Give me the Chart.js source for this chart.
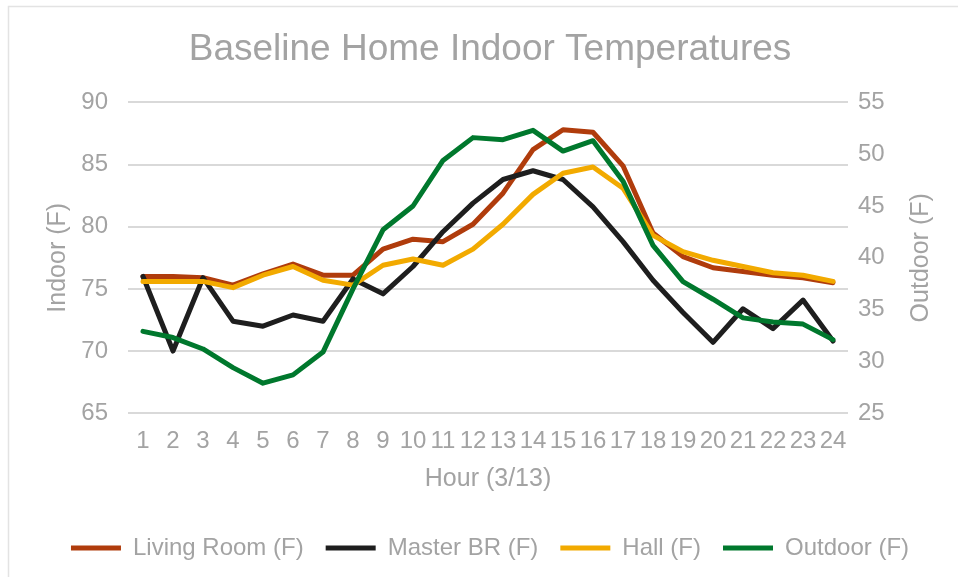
<!DOCTYPE html>
<html>
<head>
<meta charset="utf-8">
<script src="https://cdn.jsdelivr.net/npm/chart.js@4"></script>
<style>
  html, body { margin: 0; padding: 0; background: #fff; }
  #wrap { width: 958px; height: 577px; }
</style>
</head>
<body>
<div id="wrap"><canvas id="tempChart" width="958" height="577"></canvas></div>
<script>
const hours = ["1","2","3","4","5","6","7","8","9","10","11","12","13","14","15","16","17","18","19","20","21","22","23","24"];
const livingRoom = [76.0, 76.0, 75.9, 75.3, 76.2, 77.0, 76.1, 76.1, 78.2, 79.0, 78.8, 80.2, 82.7, 86.2, 87.8, 87.6, 84.9, 79.5, 77.6, 76.7, 76.4, 76.1, 75.9, 75.5];
const masterBR = [76.0, 70.0, 75.9, 72.4, 72.0, 72.9, 72.4, 75.8, 74.6, 76.8, 79.6, 81.9, 83.8, 84.5, 83.8, 81.6, 78.8, 75.7, 73.1, 70.7, 73.4, 71.8, 74.1, 70.8];
const hall = [75.6, 75.6, 75.6, 75.1, 76.1, 76.8, 75.7, 75.3, 76.9, 77.4, 76.9, 78.2, 80.2, 82.6, 84.3, 84.8, 83.1, 79.3, 78.0, 77.3, 76.8, 76.3, 76.1, 75.6];
const outdoor = [32.9, 32.3, 31.2, 29.4, 27.9, 28.7, 30.9, 37.0, 42.7, 45.0, 49.4, 51.6, 51.4, 52.3, 50.3, 51.3, 47.4, 41.2, 37.7, 36.0, 34.2, 33.8, 33.6, 32.1];

const grey = "#a3a3a3";
const fontFamily = "'Liberation Sans', Arial, sans-serif";

// faint chart frame, only top and left edges show in the original
const frame = {
  id: "frame",
  beforeDraw(chart) {
    const { ctx } = chart;
    ctx.save();
    ctx.strokeStyle = "#e3e3e3";
    ctx.lineWidth = 1.5;
    ctx.strokeRect(8.5, 6.5, 1000, 1000);
    ctx.restore();
  },
};

// right axis title reads bottom-to-top like Excel's
const rightTitle = {
  id: "rightTitle",
  afterDraw(chart) {
    const { ctx, chartArea } = chart;
    ctx.save();
    ctx.translate(921, (chartArea.top + chartArea.bottom) / 2);
    ctx.rotate(-Math.PI / 2);
    ctx.font = "25px " + fontFamily;
    ctx.fillStyle = grey;
    ctx.textAlign = "center";
    ctx.textBaseline = "middle";
    ctx.fillText("Outdoor (F)", 0, 0);
    ctx.restore();
  },
};

function line(label, data, color, axis, order) {
  return {
    label,
    data,
    borderColor: color,
    backgroundColor: color,
    borderWidth: 5,
    pointRadius: 0,
    tension: 0,
    borderCapStyle: "round",
    borderJoinStyle: "round",
    yAxisID: axis,
    order,
  };
}

new Chart(document.getElementById("tempChart"), {
  type: "line",
  data: {
    labels: hours,
    datasets: [
      line("Living Room (F)", livingRoom, "#b03c0c", "y", 4),
      line("Master BR (F)", masterBR, "#1e1e1e", "y", 3),
      line("Hall (F)", hall, "#f2aa00", "y", 2),
      line("Outdoor (F)", outdoor, "#00782d", "y1", 1),
    ],
  },
  options: {
    responsive: false,
    animation: false,
    layout: { padding: { left: 22, right: 0, top: 16, bottom: 7 } },
    plugins: {
      title: {
        display: true,
        text: "Baseline Home Indoor Temperatures",
        color: grey,
        font: { family: fontFamily, size: 37, weight: "normal" },
        padding: { top: 12, bottom: 30 },
      },
      legend: {
        position: "bottom",
        labels: {
          color: grey,
          font: { family: fontFamily, size: 24 },
          usePointStyle: true,
          pointStyle: "line",
          pointStyleWidth: 50,
          boxWidth: 50,
          padding: 22,
          sort: (a, b) => a.datasetIndex - b.datasetIndex,
        },
      },
      tooltip: { enabled: false },
    },
    scales: {
      x: {
        offset: true,
        grid: { display: false },
        border: { display: false },
        ticks: { color: grey, font: { family: fontFamily, size: 24 }, maxRotation: 0, autoSkip: false, padding: 6 },
        title: { display: true, text: "Hour (3/13)", color: grey, font: { family: fontFamily, size: 25 }, padding: { top: 2, bottom: 20 } },
      },
      y: {
        position: "left",
        min: 65,
        max: 90,
        afterFit: (s) => { s.width = 106; },
        ticks: { stepSize: 5, color: grey, font: { family: fontFamily, size: 24 }, padding: 20 },
        grid: { color: "#d9d9d9", lineWidth: 2, drawTicks: false },
        border: { display: false },
        title: { display: true, text: "Indoor (F)", color: grey, font: { family: fontFamily, size: 25 }, padding: { top: 21, bottom: 0 } },
      },
      y1: {
        position: "right",
        min: 25,
        max: 55,
        afterFit: (s) => { s.width = 110; },
        ticks: { stepSize: 5, color: grey, font: { family: fontFamily, size: 24 }, padding: 10 },
        grid: { display: false, drawTicks: false },
        border: { display: false },
      },
    },
  },
  plugins: [frame, rightTitle],
});
</script>
</body>
</html>
